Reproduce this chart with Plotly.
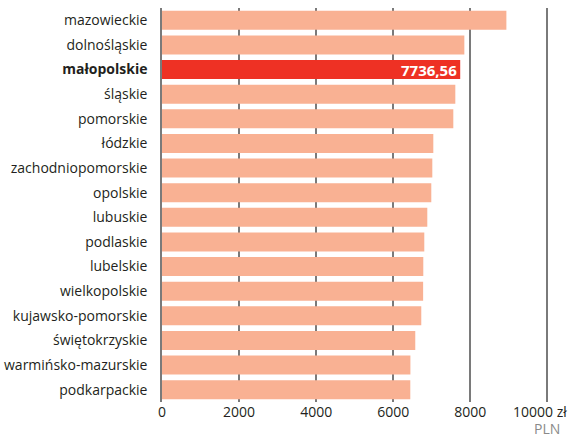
import plotly.graph_objects as go

# Average gross salary by voivodeship (PLN), sorted descending
regions = [
    "mazowieckie", "dolnośląskie", "małopolskie", "śląskie", "pomorskie",
    "łódzkie", "zachodniopomorskie", "opolskie", "lubuskie", "podlaskie",
    "lubelskie", "wielkopolskie", "kujawsko-pomorskie", "świętokrzyskie",
    "warmińsko-mazurskie", "podkarpackie",
]
salaries = [
    8935, 7844, 7736.56, 7610, 7558,
    7039, 7013, 6987, 6883, 6805,
    6779, 6775, 6727, 6571,
    6445, 6442,
]
highlight = "małopolskie"

x_ticks = [0, 2000, 4000, 6000, 8000, 10000]
x_tick_labels = ["0", "2000", "4000", "6000", "8000", ""]
last_tick_label = "10000 zł"
unit_label = "PLN"

BASE = "#F9B193"
ACCENT = "#EE3124"
TEXT = "#231F20"
MUTED = "#8a8a8a"

colors = [ACCENT if r == highlight else BASE for r in regions]
labels = [f"<b>{r}</b>" if r == highlight else r for r in regions]
bar_text = [
    f"<b>{v:.2f}</b>".replace(".", ",") if r == highlight else ""
    for r, v in zip(regions, salaries)
]

fig = go.Figure(
    go.Bar(
        x=salaries,
        y=regions,
        orientation="h",
        marker=dict(color=colors, line=dict(width=0)),
        text=bar_text,
        textposition="inside",
        insidetextanchor="end",
        constraintext="none",
        textfont=dict(color="white", size=15, family="Open Sans"),
        hoverinfo="skip",
    )
)

fig.update_layout(
    width=569,
    height=437,
    margin=dict(l=162, r=10, t=8, b=35),
    paper_bgcolor="white",
    plot_bgcolor="white",
    bargap=0.23,
    showlegend=False,
    font=dict(family="Open Sans", size=14, color=TEXT),
)

fig.update_xaxes(
    range=[0, 10300],
    tickvals=x_ticks,
    ticktext=x_tick_labels,
    showgrid=True,
    gridcolor="#7a7a7a",
    gridwidth=1.5,
    zeroline=False,
    showline=False,
    ticks="",
    tickfont=dict(size=14, color=TEXT),
    automargin=False,
    fixedrange=True,
)

fig.update_yaxes(
    categoryorder="array",
    categoryarray=regions[::-1],
    tickvals=regions,
    ticktext=labels,
    showline=True,
    linecolor="#7a7a7a",
    linewidth=1.5,
    showgrid=False,
    ticks="",
    ticklabelstandoff=10,
    tickfont=dict(size=14, color=TEXT),
    automargin=False,
    fixedrange=True,
)

# Last tick label carries the currency sign and runs to the page edge
fig.add_annotation(
    text=last_tick_label,
    x=x_ticks[-1],
    xref="x",
    y=0,
    yref="paper",
    xshift=-36,
    yshift=2,
    showarrow=False,
    font=dict(size=14, color=TEXT),
    xanchor="left",
    yanchor="top",
)

fig.add_annotation(
    text=unit_label,
    x=x_ticks[-1],
    xref="x",
    y=0,
    yref="paper",
    yshift=-38,
    showarrow=False,
    font=dict(size=14, color=MUTED),
    xanchor="center",
    yanchor="bottom",
)

fig.write_html("out.html")
